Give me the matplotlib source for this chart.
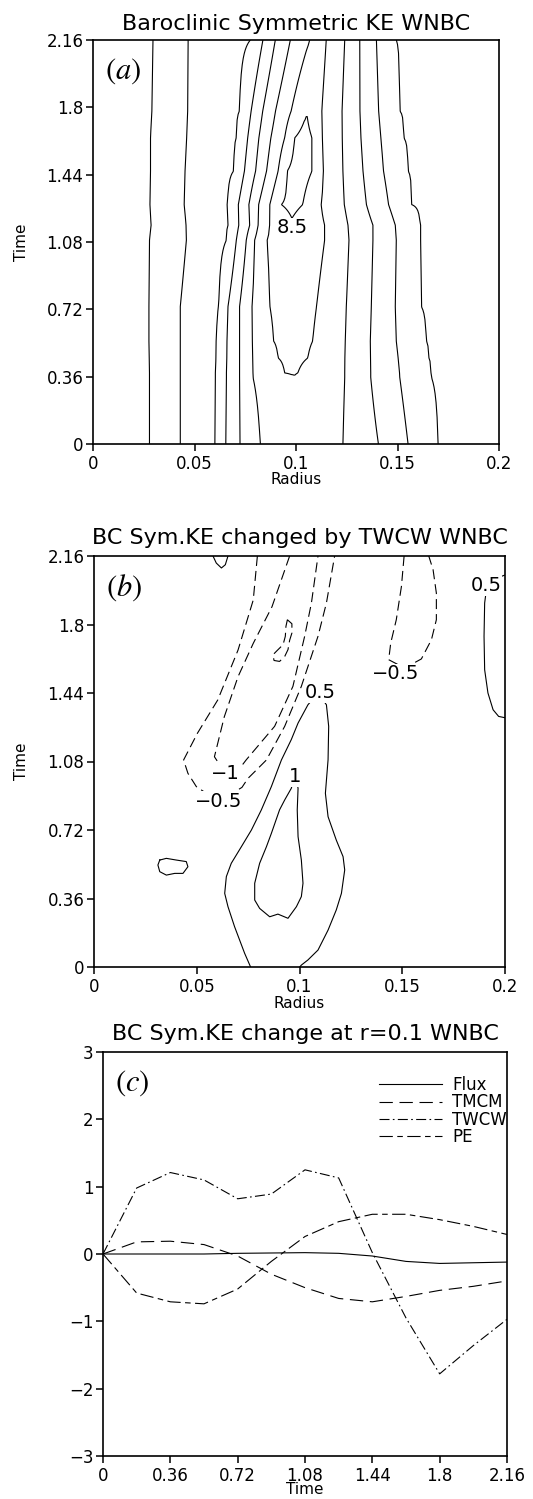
import matplotlib
matplotlib.use('Agg')
import matplotlib.pyplot as plt
import numpy as np

plt.rcParams['font.family'] = 'DejaVu Sans'
plt.rcParams['mathtext.fontset'] = 'stix'

# ---------------- panel (a): contour crossings read per time row
ke_levels = [5.0, 5.5, 6.0, 6.5, 7.0, 7.5, 8.0, 8.5]
ke_times = [0.0, 0.357, 0.38, 0.46, 0.55, 0.735, 1.09, 1.17, 1.28, 1.46, 1.636, 1.78, 2.16]
ke_radius = [
    [0, 0.0279, 0.0430, 0.0601, 0.0654, 0.0724, 0.0824, 0.100, 0.1232, 0.1406, 0.1552, 0.1700, 0.2],
    [0, 0.0279, 0.0430, 0.0604, 0.0657, 0.0722, 0.0788, 0.0993, 0.1240, 0.1368, 0.1511, 0.1667, 0.2],
    [0, 0.0279, 0.0430, 0.0604, 0.0657, 0.0722, 0.0787, 0.0944, 0.0977, 0.1009, 0.1240, 0.1368, 0.1510, 0.1665, 0.2],
    [0, 0.0278, 0.0430, 0.0606, 0.0659, 0.0722, 0.0786, 0.0912, 0.0985, 0.1058, 0.1241, 0.1367, 0.1503, 0.1655, 0.2],
    [0, 0.0276, 0.0430, 0.0608, 0.0660, 0.0722, 0.0785, 0.0890, 0.0986, 0.1082, 0.1243, 0.1366, 0.1494, 0.1642, 0.2],
    [0, 0.0276, 0.0430, 0.0619, 0.0665, 0.0722, 0.0783, 0.0871, 0.0986, 0.1101, 0.1248, 0.1371, 0.1489, 0.1617, 0.2],
    [0, 0.0279, 0.0460, 0.0657, 0.0706, 0.0755, 0.0796, 0.0857, 0.100, 0.1141, 0.1261, 0.1379, 0.1494, 0.1612, 0.2],
    [0, 0.0287, 0.0458, 0.0665, 0.0718, 0.0772, 0.0813, 0.0870, 0.098, 0.1141, 0.1256, 0.1379, 0.1489, 0.1612, 0.2],
    [0, 0.0281, 0.0449, 0.0662, 0.0716, 0.0768, 0.0816, 0.0871, 0.0928, 0.098, 0.1033, 0.1124, 0.1238, 0.1347, 0.1456, 0.1570, 0.2],
    [0, 0.0284, 0.0453, 0.0693, 0.0746, 0.0801, 0.0855, 0.0912, 0.0957, 0.102, 0.1079, 0.1135, 0.1231, 0.1330, 0.1431, 0.1552, 0.2],
    [0, 0.0284, 0.0461, 0.0705, 0.0762, 0.0817, 0.0876, 0.0944, 0.0993, 0.104, 0.1079, 0.1130, 0.1228, 0.1320, 0.1418, 0.1531, 0.2],
    [0, 0.0290, 0.0466, 0.0721, 0.0779, 0.0836, 0.0899, 0.0976, 0.1053, 0.1127, 0.1227, 0.1315, 0.1407, 0.1511, 0.2],
    [0, 0.0296, 0.0468, 0.0775, 0.0837, 0.0898, 0.0972, 0.1067, 0.111, 0.1149, 0.1240, 0.1314, 0.1396, 0.1494, 0.2],
]
ke_value = [
    [4.6, 5, 5.5, 6, 6.5, 7, 7.5, 7.8, 7.5, 7, 6.5, 6, 5.7],
    [4.6, 5, 5.5, 6, 6.5, 7, 7.5, 7.99, 7.5, 7, 6.5, 6, 5.7],
    [4.6, 5, 5.5, 6, 6.5, 7, 7.5, 8, 8.03, 8, 7.5, 7, 6.5, 6, 5.7],
    [4.6, 5, 5.5, 6, 6.5, 7, 7.5, 8, 8.08, 8, 7.5, 7, 6.5, 6, 5.7],
    [4.6, 5, 5.5, 6, 6.5, 7, 7.5, 8, 8.15, 8, 7.5, 7, 6.5, 6, 5.7],
    [4.6, 5, 5.5, 6, 6.5, 7, 7.5, 8, 8.3, 8, 7.5, 7, 6.5, 6, 5.7],
    [4.6, 5, 5.5, 6, 6.5, 7, 7.5, 8, 8.45, 8, 7.5, 7, 6.5, 6, 5.7],
    [4.6, 5, 5.5, 6, 6.5, 7, 7.5, 8, 8.45, 8, 7.5, 7, 6.5, 6, 5.7],
    [4.6, 5, 5.5, 6, 6.5, 7, 7.5, 8, 8.5, 8.6, 8.5, 8, 7.5, 7, 6.5, 6, 5.7],
    [4.6, 5, 5.5, 6, 6.5, 7, 7.5, 8, 8.5, 8.7, 8.5, 8, 7.5, 7, 6.5, 6, 5.7],
    [4.6, 5, 5.5, 6, 6.5, 7, 7.5, 8, 8.5, 8.65, 8.5, 8, 7.5, 7, 6.5, 6, 5.7],
    [4.6, 5, 5.5, 6, 6.5, 7, 7.5, 8, 8.49, 8, 7.5, 7, 6.5, 6, 5.7],
    [4.6, 5, 5.5, 6, 6.5, 7, 7.5, 8, 8.2, 8, 7.5, 7, 6.5, 6, 5.7],
]

# ---------------- panel (b): contour lines (radius, time)
b_neg05_left_r = [0.0795, 0.0775, 0.0701, 0.0602, 0.0503, 0.0436, 0.0457, 0.0498, 0.0607, 0.0720,
                  0.0749, 0.0790, 0.0839, 0.0928, 0.1009, 0.1090, 0.1131, 0.1171]
b_neg05_left_t = [2.16, 1.929, 1.666, 1.403, 1.228, 1.088, 1.018, 0.948, 0.869, 0.944,
                  0.991, 1.035, 1.088, 1.265, 1.475, 1.738, 1.913, 2.16]
b_neg1_r = [0.0952, 0.0866, 0.0775, 0.0701, 0.0634, 0.0586, 0.0639, 0.0709, 0.0741, 0.0879,
            0.0968, 0.1025, 0.1058, 0.1090]
b_neg1_t = [2.16, 1.893, 1.701, 1.526, 1.315, 1.105, 1.018, 1.044, 1.089, 1.265,
            1.475, 1.738, 1.913, 2.16]
b_neg15_r = [0.0941, 0.0963, 0.0963, 0.0952, 0.0944, 0.0928, 0.0903, 0.0876, 0.0871, 0.0892,
             0.0920, 0.0931, 0.0934, 0.0941]
b_neg15_t = [1.825, 1.804, 1.755, 1.717, 1.668, 1.632, 1.606, 1.611, 1.641, 1.664,
             1.694, 1.738, 1.790, 1.825]
b_neg05_right_r = [0.1509, 0.1496, 0.1471, 0.1444, 0.1434, 0.1512, 0.1593, 0.1642, 0.1666,
                   0.1666, 0.1650, 0.1629]
b_neg05_right_t = [2.16, 2.0, 1.825, 1.703, 1.615, 1.571, 1.619, 1.72, 1.825, 1.965, 2.088, 2.16]
b_pos05_main_r = [0.0762, 0.0733, 0.0684, 0.0652, 0.0636, 0.0644, 0.0668, 0.0717, 0.0766, 0.0814,
                  0.0863, 0.0912, 0.0960, 0.0993, 0.1041, 0.109, 0.1131, 0.1142, 0.1139, 0.1126,
                  0.1139, 0.1179, 0.1212, 0.1220, 0.1204, 0.1179, 0.1139, 0.1090, 0.1041, 0.1009,
                  0.1001]
b_pos05_main_t = [0.0, 0.072, 0.212, 0.317, 0.387, 0.475, 0.545, 0.632, 0.72, 0.825,
                  0.948, 1.088, 1.195, 1.282, 1.378, 1.44, 1.378, 1.265, 1.089, 0.913,
                  0.79, 0.667, 0.58, 0.51, 0.387, 0.30, 0.194, 0.089, 0.037, 0.01,
                  0.0]
b_pos1_r = [0.098, 0.0960, 0.0928, 0.0903, 0.0863, 0.0839, 0.0806, 0.0782, 0.0782, 0.0806,
            0.0855, 0.0895, 0.0944, 0.0985, 0.1009, 0.1017, 0.1009, 0.0993, 0.0989, 0.0993,
            0.098]
b_pos1_t = [1.01, 0.939, 0.878, 0.826, 0.702, 0.632, 0.545, 0.44, 0.352, 0.308,
            0.264, 0.278, 0.256, 0.317, 0.37, 0.44, 0.562, 0.685, 0.825, 0.939,
            1.01]
b_pos05_small_r = [0.0320, 0.0352, 0.0401, 0.0449, 0.0457, 0.0433, 0.0393, 0.0352, 0.0320,
                   0.0311, 0.0320]
b_pos05_small_t = [0.562, 0.571, 0.562, 0.554, 0.527, 0.492, 0.492, 0.483, 0.501, 0.536, 0.562]
b_pos05_edge_r = [0.2, 0.1925, 0.1909, 0.1901, 0.1898, 0.1901, 0.1917, 0.1942, 0.1969, 0.2]
b_pos05_edge_t = [2.06, 2.03, 1.98, 1.913, 1.738, 1.562, 1.44, 1.352, 1.317, 1.31]
b_pos05_top_r = [0.0579, 0.0595, 0.0620, 0.0639, 0.0652]
b_pos05_top_t = [2.16, 2.123, 2.097, 2.114, 2.16]

b_lines = [
    (b_neg05_left_r, b_neg05_left_t, -0.5),
    (b_neg1_r, b_neg1_t, -1.0),
    (b_neg15_r, b_neg15_t, -1.5),
    (b_neg05_right_r, b_neg05_right_t, -0.5),
    (b_pos05_main_r, b_pos05_main_t, 0.5),
    (b_pos1_r, b_pos1_t, 1.0),
    (b_pos05_small_r, b_pos05_small_t, 0.5),
    (b_pos05_edge_r, b_pos05_edge_t, 0.5),
    (b_pos05_top_r, b_pos05_top_t, 0.5),
]
b_label_text = ['0.5', '\u22120.5', '\u22121', '\u22120.5', '1', '0.5']
b_label_r = [0.1101, 0.1466, 0.0639, 0.0607, 0.0980, 0.1907]
b_label_t = [1.443, 1.541, 1.018, 0.869, 1.000, 2.006]

# ---------------- panel (c): time series at r = 0.1
c_time = [0, 0.18, 0.36, 0.54, 0.72, 0.90, 1.08, 1.26, 1.44, 1.62, 1.80, 1.98, 2.16]
c_flux = [0, 0, 0, 0, 0.01, 0.015, 0.02, 0.01, -0.03, -0.11, -0.14, -0.13, -0.12]
c_tmcm = [0, 0.18, 0.19, 0.14, -0.03, -0.30, -0.50, -0.66, -0.71, -0.63, -0.54, -0.48, -0.40]
c_twcw = [0, 0.98, 1.21, 1.10, 0.82, 0.89, 1.25, 1.13, 0.02, -0.95, -1.78, -1.36, -0.97]
c_pe = [0, -0.58, -0.71, -0.74, -0.52, -0.11, 0.26, 0.48, 0.59, 0.59, 0.51, 0.41, 0.29]

time_ticks = [0, 0.36, 0.72, 1.08, 1.44, 1.8, 2.16]
time_ticklabels = ['0', '0.36', '0.72', '1.08', '1.44', '1.8', '2.16']
radius_ticks = [0, 0.05, 0.1, 0.15, 0.2]
radius_ticklabels = ['0', '0.05', '0.1', '0.15', '0.2']

W, H = 533, 1499
fig = plt.figure(figsize=(W / 100, H / 100), dpi=100)


def add_axes(x0, y0, x1, y1):
    # pixel box (top-left origin) -> figure fraction
    return fig.add_axes([x0 / W, 1 - y1 / H, (x1 - x0) / W, (y1 - y0) / H])


def style_axes(ax):
    for s in ax.spines.values():
        s.set_linewidth(1.2)
    ax.tick_params(direction='out', length=5, width=1.1, labelsize=12, pad=2,
                   top=False, right=False)
    ax.tick_params(axis='x', pad=3)


def label_box(ax, x, y, s, size=14):
    ax.text(x, y, s, fontsize=size, ha='center', va='center', zorder=5,
            bbox=dict(fc='white', ec='none', pad=0.5))


# panel a
ax1 = add_axes(93, 40, 499, 444)
r_fine = np.linspace(0, 0.2, 401)
Z = np.array([np.interp(r_fine, rr, vv) for rr, vv in zip(ke_radius, ke_value)])
ax1.contour(r_fine, ke_times, Z, levels=ke_levels, colors='k', linewidths=0.8,
            linestyles='solid')
label_box(ax1, 0.098, 1.155, '8.5')
ax1.set_xlim(0, 0.2)
ax1.set_ylim(0, 2.16)
ax1.set_xticks(radius_ticks, radius_ticklabels)
ax1.set_yticks(time_ticks, time_ticklabels)
style_axes(ax1)
ax1.set_title('Baroclinic Symmetric KE WNBC', fontsize=16, pad=7)
ax1.set_xlabel('Radius', fontsize=11)
ax1.set_ylabel('Time', fontsize=11)
ax1.xaxis.set_label_coords(0.5, -0.07)
ax1.yaxis.set_label_coords(-0.157, 0.5)
ax1.text(0.03, 0.96, r'$(a)$', transform=ax1.transAxes, fontsize=22, va='top', ha='left')

# panel b
ax2 = add_axes(94, 556, 505, 967)
for rr, tt, lev in b_lines:
    ls = (0, (9, 4.5)) if lev < 0 else 'solid'
    ax2.plot(rr, tt, color='k', lw=0.8, ls=ls)
for s, x, y in zip(b_label_text, b_label_r, b_label_t):
    label_box(ax2, x, y, s)
ax2.set_xlim(0, 0.2)
ax2.set_ylim(0, 2.16)
ax2.set_xticks(radius_ticks, radius_ticklabels)
ax2.set_yticks(time_ticks, time_ticklabels)
style_axes(ax2)
ax2.set_title('BC Sym.KE changed by TWCW WNBC', fontsize=16, pad=9)
ax2.set_xlabel('Radius', fontsize=11)
ax2.set_ylabel('Time', fontsize=11)
ax2.xaxis.set_label_coords(0.5, -0.07)
ax2.yaxis.set_label_coords(-0.157, 0.5)
ax2.text(0.03, 0.96, r'$(b)$', transform=ax2.transAxes, fontsize=22, va='top', ha='left')

# panel c
ax3 = add_axes(103, 1052, 507, 1456)
ax3.plot(c_time, c_flux, color='k', lw=0.8, ls='solid', label='Flux')
ax3.plot(c_time, c_tmcm, color='k', lw=0.8, ls=(0, (12, 6)), label='TMCM')
ax3.plot(c_time, c_twcw, color='k', lw=0.8, ls=(0, (9, 3, 1.5, 3)), label='TWCW')
ax3.plot(c_time, c_pe, color='k', lw=0.8, ls=(0, (12, 4, 5, 4)), label='PE')
ax3.set_xlim(0, 2.16)
ax3.set_ylim(-3, 3)
ax3.set_xticks(time_ticks, time_ticklabels)
ax3.set_yticks(range(-3, 4))
style_axes(ax3)
ax3.set_title('BC Sym.KE change at r=0.1 WNBC', fontsize=16, pad=9)
ax3.set_xlabel('Time', fontsize=11)
ax3.xaxis.set_label_coords(0.5, -0.065)
ax3.text(0.03, 0.96, r'$(c)$', transform=ax3.transAxes, fontsize=22, va='top', ha='left')
ax3.legend(loc='upper right', bbox_to_anchor=(1.0, 0.94), frameon=False, fontsize=12,
           handlelength=3.8, handletextpad=0.6, labelspacing=-0.05, borderpad=0,
           borderaxespad=0)

fig.savefig('out.png', dpi=100)
